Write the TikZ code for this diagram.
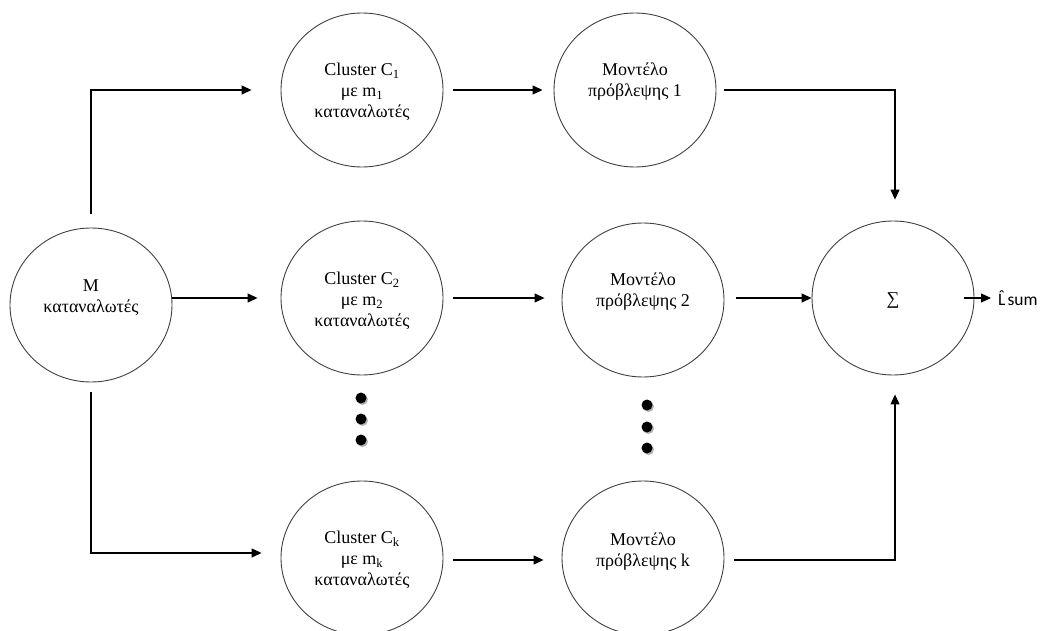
\documentclass[tikz,border=0pt]{standalone}
\usepackage{fontspec}
\setmainfont{Liberation Serif}
\newfontfamily\carl{Carlito}
\usetikzlibrary{arrows.meta,calc,shapes.geometric}
\begin{document}
\begin{tikzpicture}[x=1pt,y=-1pt,
  ell/.style={draw=black!75, line width=0.9pt, ellipse, minimum width=162pt, minimum height=154pt, inner sep=0pt},
  txt/.style={align=center, font=\fontsize{18}{21}\selectfont, inner sep=0pt},
  arr/.style={line width=1.1pt, -{Triangle[length=10pt,width=9pt]}},
  dotshadow/.style={fill=black!30},
  dotfill/.style={fill=black}
  ]
\useasboundingbox (0,0) rectangle (1043,631);
\clip (0,0) rectangle (1043,631);

% ellipses
\node[ell] (M)  at (91,305) {};
\node[ell] (C1) at (362,90) {};
\node[ell] (C2) at (362,298) {};
\node[ell] (Ck) at (362,558) {};
\node[ell] (P1) at (635,90) {};
\node[ell] (P2) at (643,300) {};
\node[ell] (Pk) at (643,558) {};
\node[ell] (S)  at (893,298) {};

% texts
\node[txt] (tM)  at (91,298)  {M\\καταναλωτές};
\node[txt] (tC1) at (362,92)  {Cluster C\textsubscript{1}\\με m\textsubscript{1}\\καταναλωτές};
\node[txt] (tC2) at (362,301) {Cluster C\textsubscript{2}\\με m\textsubscript{2}\\καταναλωτές};
\node[txt] (tCk) at (362,560) {Cluster C\textsubscript{k}\\με m\textsubscript{k}\\καταναλωτές};
\node[txt] (tP1) at (635,82)  {Μοντέλο\\πρόβλεψης 1};
\node[txt] (tP2) at (643,292) {Μοντέλο\\πρόβλεψης 2};
\node[txt] (tPk) at (643,552) {Μοντέλο\\πρόβλεψης k};
\node[txt] (tS)  at (893,301) {∑};
\node[inner sep=0pt, anchor=west, font=\carl\fontsize{17.5}{20}\selectfont] (out) at (998,298) {{\accent"02C6 L}\kern2pt sum};

% dots
\foreach \y in {398,419,440} {
  \fill[dotshadow] (362.5,\y+1.5) circle (5.5pt);
  \fill[dotfill] (361,\y) circle (5.5pt);
}
\foreach \y in {405,427,448} {
  \fill[dotshadow] (648.5,\y+1.5) circle (5.5pt);
  \fill[dotfill] (647,\y) circle (5.5pt);
}

% connectors
\draw[arr] ($(M.north)+(0,-14)$) |- ($(C1.west)+(-29,0)$);
\draw[arr] (M.east |- C2.west) -- ($(C2.west)+(-23,0)$);
\draw[arr] ($(M.south)+(0,10)$) |- ($(Ck.west)+(-19,-5)$);
\draw[arr] ($(C1.east)+(10,0)$) -- ($(P1.west)+(-11,0)$);
\draw[arr] ($(C2.east)+(10,0)$) -- ($(P2.west |- C2.east)+(-17,0)$);
\draw[arr] ($(Ck.east)+(10,2)$) -- ($(Pk.west)+(-18,2)$);
\draw[arr] ($(P1.east)+(8,0)$) -| ($(S.north)+(2,-21)$);
\draw[arr] ($(P2.east |- S.west)+(12,0)$) -- (S.west);
\draw[arr] ($(Pk.east)+(10,2)$) -| ($(S.south)+(2,19)$);
\draw[arr] ($(S.east)+(-10,0)$) -- ($(out.west)+(-7,0)$);
\end{tikzpicture}
\end{document}
